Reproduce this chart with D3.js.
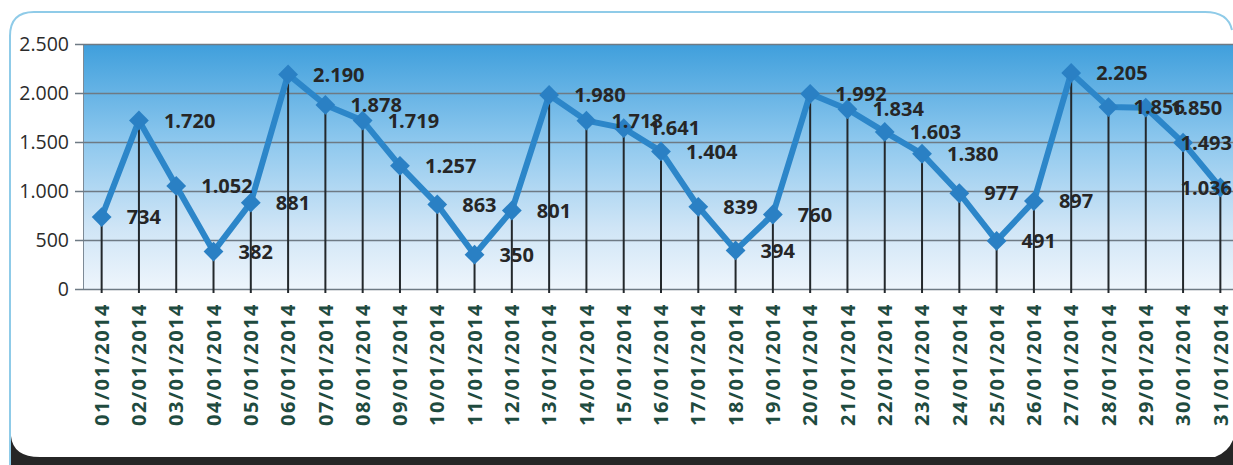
<!DOCTYPE html>
<html>
<head>
<meta charset="utf-8">
<script src="https://cdn.jsdelivr.net/npm/d3@7"></script>
<style>
  body { margin: 0; background: #fff; }
  svg { display: block; }
</style>
</head>
<body>
<svg id="chart" width="1233" height="465"></svg>
<script>
// values, January 2014
const dates = ["01/01/2014","02/01/2014","03/01/2014","04/01/2014","05/01/2014","06/01/2014",
  "07/01/2014","08/01/2014","09/01/2014","10/01/2014","11/01/2014","12/01/2014","13/01/2014",
  "14/01/2014","15/01/2014","16/01/2014","17/01/2014","18/01/2014","19/01/2014","20/01/2014",
  "21/01/2014","22/01/2014","23/01/2014","24/01/2014","25/01/2014","26/01/2014","27/01/2014",
  "28/01/2014","29/01/2014","30/01/2014","31/01/2014"];
const values = [734, 1720, 1052, 382, 881, 2190, 1878, 1719, 1257, 863, 350, 801, 1980,
  1718, 1641, 1404, 839, 394, 760, 1992, 1834, 1603, 1380, 977, 491, 897, 2205,
  1856, 1850, 1493, 1036];
const yTicks = [0, 500, 1000, 1500, 2000, 2500];

const svg = d3.select("#chart");
const fmt = d => d3.format(",")(d).replace(/,/g, ".");

const plot = { left: 83, right: 1239, top: 44, bottom: 289 };
const W = 1233;

// frame
svg.append("path")
  .attr("d", "M10,470 L10,36 Q10,12 34,12 L1205,12 Q1228,12 1232,30")
  .attr("fill", "none")
  .attr("stroke", "#8fcbe8")
  .attr("stroke-width", 2);
svg.append("path")
  .attr("d", "M11,436 Q13,457 40,457 L1215,457 Q1228,452 1233,440 L1233,465 L11,465 Z")
  .attr("fill", "#262626");

// gradient background of plot area
const defs = svg.append("defs");
const grad = defs.append("linearGradient").attr("id", "bg")
  .attr("x1", 0).attr("y1", 0).attr("x2", 0).attr("y2", 1);
grad.append("stop").attr("offset", "0%").attr("stop-color", "#3f9fdc");
grad.append("stop").attr("offset", "40%").attr("stop-color", "#8ec8ee");
grad.append("stop").attr("offset", "75%").attr("stop-color", "#cfe5f6");
grad.append("stop").attr("offset", "100%").attr("stop-color", "#eef5fc");

svg.append("rect")
  .attr("x", plot.left).attr("y", plot.top)
  .attr("width", plot.right - plot.left).attr("height", plot.bottom - plot.top)
  .attr("fill", "url(#bg)");

let x = d3.scaleBand()
  .domain(dates)
  .range([plot.left, plot.right]);

let y = d3.scaleLinear()
  .domain([0, 2500])
  .range([plot.bottom, plot.top]);

// gridlines + y labels
svg.append("g")
  .attr("transform", "translate(" + plot.left + ",0)")
  .call(d3.axisLeft(y).tickValues(yTicks).tickFormat(fmt)
    .tickSize(-(plot.right - plot.left)).tickSizeOuter(0).tickPadding(14))
  .call(g => g.select(".domain").attr("stroke", "#7d8a96"))
  .call(g => g.selectAll(".tick line").attr("stroke", "#6e7a84").attr("stroke-width", 1.3)
    .attr("x1", -8))
  .call(g => g.selectAll(".tick text")
    .attr("fill", "#2b2b2b")
    .style("font-family", "'Open Sans', sans-serif")
    .style("font-size", "19.5px"));

// x labels
svg.append("g")
  .attr("transform", "translate(0," + plot.bottom + ")")
  .call(d3.axisBottom(x).tickSize(0).tickPadding(14))
  .call(g => g.select(".domain").remove())
  .call(g => g.selectAll(".tick text")
    .attr("transform", "rotate(-90)")
    .attr("text-anchor", "end")
    .attr("x", -14).attr("y", 0).attr("dy", "0.36em")
    .attr("fill", "#1f4b3f")
    .style("font-family", "'Open Sans', sans-serif")
    .style("font-weight", "bold")
    .style("font-size", "20px")
    .style("letter-spacing", "1.5px"));

const cx = d => x(d) + x.bandwidth() / 2;

// drop lines
svg.append("g").selectAll("line")
  .data(dates)
  .join("line")
  .attr("x1", d => cx(d)).attr("x2", d => cx(d))
  .attr("y1", (d, i) => y(values[i]))
  .attr("y2", plot.bottom + 4)
  .attr("stroke", "#23282c")
  .attr("stroke-width", 2);

// series line
let line = d3.line()
  .x((d, i) => cx(dates[i]))
  .y(d => y(d));

svg.append("path")
  .datum(values)
  .attr("fill", "none")
  .attr("stroke", "#2c86c9")
  .attr("stroke-width", 6)
  .attr("stroke-linejoin", "round")
  .attr("d", line);

// diamond markers
svg.append("g").selectAll("path")
  .data(values)
  .join("path")
  .attr("transform", (d, i) => "translate(" + cx(dates[i]) + "," + y(d) + ")")
  .attr("d", d3.symbol().type(d3.symbolDiamond2).size(250))
  .attr("fill", "#2a80c4");

// data labels, pushed back inside the right edge where needed
svg.append("g").selectAll("text")
  .data(values)
  .join("text")
  .attr("x", (d, i) => cx(dates[i]) + 25)
  .attr("y", d => y(d))
  .attr("dy", "0.36em")
  .attr("fill", "#262626")
  .style("font-family", "'Open Sans', sans-serif")
  .style("font-weight", "bold")
  .style("font-size", "20px")
  .text(fmt)
  .each(function() {
    let w = this.getComputedTextLength();
    let x0 = +this.getAttribute("x");
    if (x0 + w > W - 1) this.setAttribute("x", W - 1 - w);
  });
</script>
</body>
</html>
